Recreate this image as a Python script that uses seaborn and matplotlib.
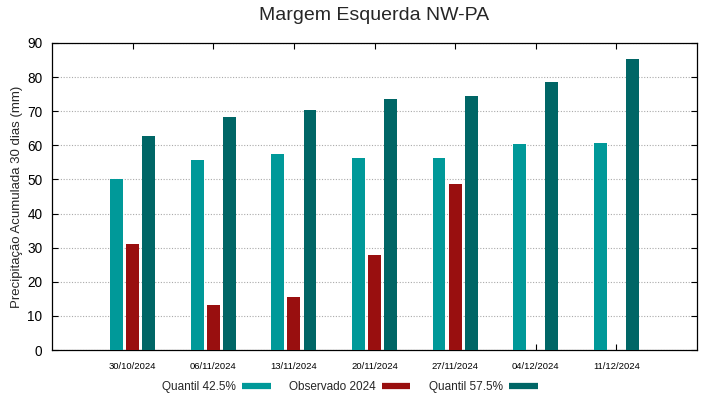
import matplotlib
matplotlib.use("Agg")
import matplotlib.pyplot as plt
from matplotlib.lines import Line2D
import numpy as np
import pandas as pd
import seaborn as sns

dates = ["30/10/2024", "06/11/2024", "13/11/2024", "20/11/2024",
         "27/11/2024", "04/12/2024", "11/12/2024"]
q425 = [50.0, 55.8, 57.5, 56.3, 56.3, 60.3, 60.6]
obs2024 = [31.0, 13.2, 15.5, 27.8, 48.7, np.nan, np.nan]
q575 = [62.8, 68.4, 70.3, 73.5, 74.5, 78.5, 85.2]

series_names = ["Quantil 42.5%", "Observado 2024", "Quantil 57.5%"]
colors = ["#009999", "#990f0f", "#006666"]

df = pd.DataFrame({
    "data": dates * 3,
    "valor": q425 + obs2024 + q575,
    "serie": [series_names[0]] * 7 + [series_names[1]] * 7 + [series_names[2]] * 7,
})

sns.set_theme(style="white")
plt.rcParams["font.family"] = ["Liberation Sans", "DejaVu Sans"]

fig = plt.figure(figsize=(7.19, 3.99), dpi=100)
ax = fig.add_axes([52/719, 1 - 350/399, (697-52)/719, (350-43)/399])

sns.barplot(data=df, x="data", y="valor", hue="serie", order=dates,
            hue_order=series_names, palette=colors, width=0.6, gap=0.2,
            saturation=1, legend=False, ax=ax, errorbar=None, zorder=3,
            linewidth=0, edgecolor="none")

ax.set_xlim(-1, 7)
ax.set_ylim(0, 90)
ax.set_yticks(range(0, 91, 10))
ax.yaxis.grid(True, linestyle=(0, (1, 1.5)), color="#aaaaaa", linewidth=0.8, zorder=0)
ax.set_axisbelow(True)
ax.set_xlabel("")
ax.set_ylabel("Precipitação Acumulada 30 dias (mm)", fontsize=9.5, labelpad=3)
ax.tick_params(axis="y", direction="in", length=4, width=0.8, labelsize=9.8,
               left=True, right=True, pad=7, colors="black")
ax.tick_params(axis="x", direction="in", length=4, width=0.8, labelsize=6.8,
               bottom=True, top=True, pad=8.5, colors="black")
for s in ax.spines.values():
    s.set_color("black")
    s.set_linewidth(0.9)

fig.text(374.5/719, 1 - 15/399, "Margem Esquerda NW-PA", ha="center", va="center",
         fontsize=14)

handles = [Line2D([0], [0], color=c, linewidth=4.5, solid_capstyle="butt") for c in colors]
fig.legend(handles, series_names, loc="center", bbox_to_anchor=(350/719, 1 - 387/399),
           ncol=3, frameon=False, markerfirst=False, fontsize=8.5, handlelength=2.4,
           columnspacing=1.6, handletextpad=0.5, borderaxespad=0)

fig.savefig("out.png", dpi=100)
